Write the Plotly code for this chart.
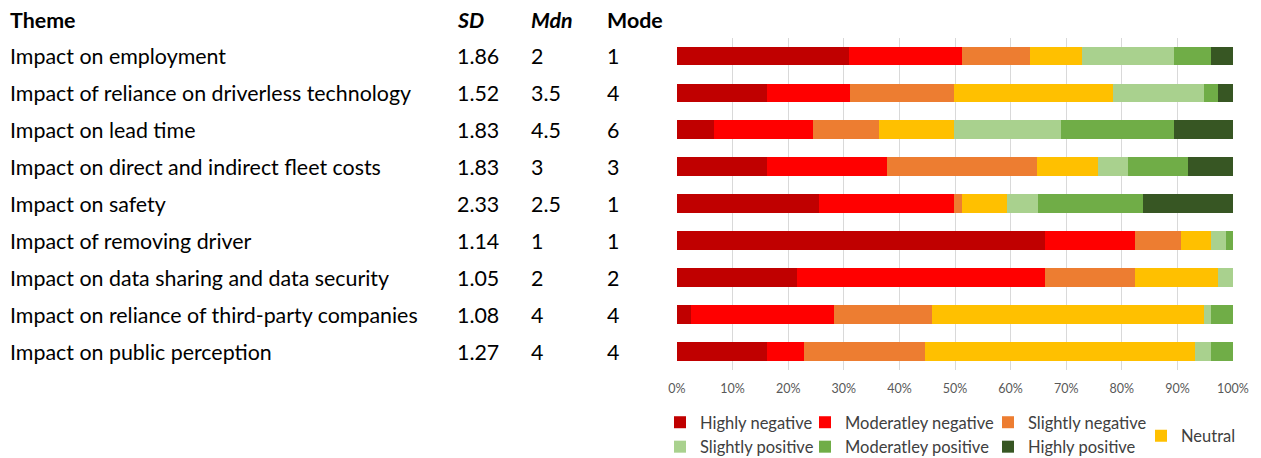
import plotly.graph_objects as go

themes = [
    "Impact on employment",
    "Impact of reliance on driverless technology",
    "Impact on lead time",
    "Impact on direct and indirect fleet costs",
    "Impact on safety",
    "Impact of removing driver",
    "Impact on data sharing and data security",
    "Impact on reliance of third-party companies",
    "Impact on public perception",
]
sd = ["1.86", "1.52", "1.83", "1.83", "2.33", "1.14", "1.05", "1.08", "1.27"]
mdn = ["2", "3.5", "4.5", "3", "2.5", "1", "2", "4", "4"]
mode = ["1", "4", "6", "3", "1", "1", "2", "4", "4"]

highly_negative = [31.0, 16.1, 6.7, 16.1, 25.5, 66.2, 21.6, 2.5, 16.1]
moderately_negative = [20.3, 15.0, 17.7, 21.7, 24.3, 16.2, 44.6, 25.7, 6.7]
slightly_negative = [12.1, 18.8, 12.0, 26.9, 1.5, 8.2, 16.2, 17.6, 21.8]
neutral = [9.5, 28.5, 13.5, 11.0, 8.1, 5.5, 14.9, 49.0, 48.6]
slightly_positive = [16.5, 16.4, 19.1, 5.5, 5.6, 2.7, 2.7, 1.3, 2.9]
moderately_positive = [6.7, 2.5, 20.3, 10.7, 18.8, 1.2, 0.0, 3.9, 3.9]
highly_positive = [3.9, 2.7, 10.7, 8.1, 16.2, 0.0, 0.0, 0.0, 0.0]

series = [
    ("Highly negative", highly_negative, "#C00000", "legend"),
    ("Moderatley negative", moderately_negative, "#FF0000", "legend2"),
    ("Slightly negative", slightly_negative, "#ED7D31", "legend3"),
    ("Neutral", neutral, "#FFC000", "legend4"),
    ("Slightly positive", slightly_positive, "#A9D18E", "legend"),
    ("Moderatley positive", moderately_positive, "#70AD47", "legend2"),
    ("Highly positive", highly_positive, "#375623", "legend3"),
]

FONT = "Lato"
W, H = 1261, 458

fig = go.Figure()
for name, vals, color, lg in series:
    fig.add_trace(go.Bar(
        y=themes, x=vals, name=name, orientation="h",
        marker=dict(color=color, line=dict(width=0)),
        legend=lg, hoverinfo="x+y+name",
    ))

annotations = []
def px(x):
    return x / W
def py(y):
    return 1 - y / H

TSIZE = 21.4
hdr = [("<b>Theme</b>", 8), ("<b><i>SD</i></b>", 455), ("<b><i>Mdn</i></b>", 529), ("<b>Mode</b>", 605)]
for txt, x in hdr:
    annotations.append(dict(text=txt, x=px(x), y=py(20), xref="paper", yref="paper",
                            xanchor="left", yanchor="middle", showarrow=False,
                            font=dict(family=FONT, size=TSIZE, color="black")))
for i, t in enumerate(themes):
    for txt, x in [(t, 8), (sd[i], 455), (mdn[i], 529), (mode[i], 605)]:
        annotations.append(dict(text=txt, x=px(x), y=t, xref="paper", yref="y",
                                xanchor="left", yanchor="middle", showarrow=False,
                                font=dict(family=FONT, size=TSIZE, color="black")))

legfont = dict(family=FONT, size=16.5, color="#404040")
def leg(x, y, yanchor="top"):
    return dict(x=px(x), y=py(y), xanchor="left", yanchor=yanchor, orientation="v",
                font=legfont, bgcolor="rgba(0,0,0,0)", borderwidth=0,
                traceorder="normal",
                itemclick=False, itemdoubleclick=False, tracegroupgap=0)

fig.update_layout(
    width=W, height=H,
    margin=dict(l=0, r=0, t=0, b=0, autoexpand=False),
    paper_bgcolor="white", plot_bgcolor="white",
    barmode="stack", bargap=0.49,
    font=dict(family=FONT),
    xaxis=dict(domain=[px(677), px(1233)], range=[0, 100], dtick=10,
               ticksuffix="%", showgrid=True, gridcolor="#D9D9D9", gridwidth=1,
               zeroline=False, showline=False, ticks="", ticklabelstandoff=9,
               automargin=False,
               tickfont=dict(family=FONT, size=12.5, color="#595959"), fixedrange=True),
    yaxis=dict(domain=[py(370), py(37.5)], autorange="reversed", automargin=False,
               showticklabels=False, showgrid=False, zeroline=False, fixedrange=True),
    legend=leg(660, 405),
    legend2=leg(805, 405),
    legend3=leg(988, 405),
    legend4=leg(1141, 436, "middle"),
    annotations=annotations,
    showlegend=True,
)

fig.write_html("out.html", config={"displayModeBar": False})

with open("out.html", "r", encoding="utf-8") as f:
    html = f.read()
html = html.replace("<head>", "<head><style>html,body{margin:0;padding:0;overflow:hidden;}</style>", 1)
with open("out.html", "w", encoding="utf-8") as f:
    f.write(html)
